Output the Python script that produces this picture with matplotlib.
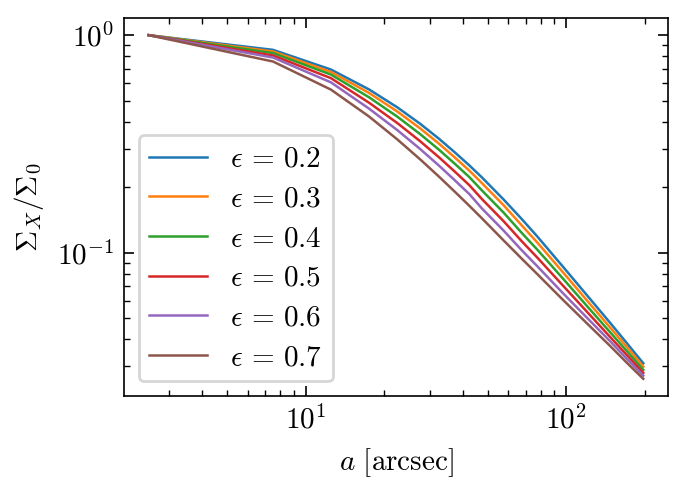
import numpy as np
import matplotlib
matplotlib.use("Agg")
import matplotlib.pyplot as plt
from matplotlib.ticker import FuncFormatter, NullFormatter

# ── Data ───────────────────────────────────────────────────────────────────
a_arcsec = [2.5, 7.5, 12.5, 17.5, 22.5, 27.5, 32.5, 37.5, 42.5, 47.5,
            57.5, 67.5, 77.5, 97.5, 122.5, 147.5, 172.5, 197.5]

eps_02 = [1.0, 0.856, 0.695, 0.5632, 0.4653, 0.3914, 0.3338, 0.2880, 0.2517,
          0.2216, 0.1755, 0.1427, 0.1185, 0.0857, 0.0619, 0.0475, 0.0378, 0.0310]
eps_03 = [1.0, 0.841, 0.6775, 0.5427, 0.4452, 0.3727, 0.3169, 0.2728, 0.2381,
          0.2086, 0.1652, 0.1334, 0.1112, 0.0808, 0.0586, 0.0452, 0.0363, 0.0299]
eps_04 = [1.0, 0.827, 0.659, 0.5183, 0.4216, 0.3509, 0.2972, 0.2552, 0.2224,
          0.1930, 0.1528, 0.1232, 0.1031, 0.0756, 0.0553, 0.0430, 0.0348, 0.0289]
eps_05 = [1.0, 0.8065, 0.6345, 0.4894, 0.3940, 0.3254, 0.2743, 0.2348, 0.2041,
          0.1762, 0.1395, 0.1128, 0.0948, 0.0702, 0.0521, 0.0409, 0.0334, 0.0280]
eps_06 = [1.0, 0.789, 0.607, 0.4597, 0.3656, 0.2996, 0.2511, 0.2142, 0.1858,
          0.1595, 0.1263, 0.1025, 0.0865, 0.0648, 0.0490, 0.0391, 0.0321, 0.0272]
eps_07 = [1.0, 0.7565, 0.562, 0.4229, 0.3313, 0.2686, 0.2235, 0.1898, 0.1641,
          0.1437, 0.1138, 0.0938, 0.0796, 0.0604, 0.0462, 0.0372, 0.0308, 0.0263]

eps_labels = ["0.2", "0.3", "0.4", "0.5", "0.6", "0.7"]
series = [eps_02, eps_03, eps_04, eps_05, eps_06, eps_07]

# ── Style ──────────────────────────────────────────────────────────────────
plt.rcParams.update({
    "mathtext.fontset": "cm",
    "font.family": "serif",
    "font.size": 10.5,
    "axes.linewidth": 0.6,
    "xtick.direction": "in",
    "ytick.direction": "in",
    "xtick.top": True,
    "ytick.right": True,
    "xtick.major.size": 3.5,
    "ytick.major.size": 3.5,
    "xtick.minor.size": 2.0,
    "ytick.minor.size": 2.0,
    "xtick.major.width": 0.6,
    "ytick.major.width": 0.6,
    "xtick.minor.width": 0.5,
    "ytick.minor.width": 0.5,
    "xtick.minor.visible": True,
    "ytick.minor.visible": True,
})

fig = plt.figure(figsize=(6.87 / 2, 4.90 / 2), dpi=200)
ax = fig.add_axes([0.1805, 0.1918, 0.7919, 0.7715])

for vals, lab in zip(series, eps_labels):
    ax.plot(a_arcsec, vals, lw=0.9, label=rf"$\epsilon \,=\, {lab}$")

ax.set_xscale("log")
ax.set_yscale("log")

fmt = FuncFormatter(lambda v, pos: rf"$10^{{{int(round(np.log10(v)))}}}$")
ax.xaxis.set_major_formatter(fmt)
ax.yaxis.set_major_formatter(fmt)
ax.xaxis.set_minor_formatter(NullFormatter())
ax.yaxis.set_minor_formatter(NullFormatter())
ax.tick_params(labelsize=10.5)

ax.set_xlabel(r"$a\ [\mathrm{arcsec}]$", fontsize=10.5)
ax.set_ylabel(r"$\Sigma_X/\Sigma_0$", fontsize=10.5)

ax.legend(loc="lower left", fontsize=10.5, handlelength=2.0,
          labelspacing=0.4, borderpad=0.35)

fig.savefig("out.png", dpi=200)
